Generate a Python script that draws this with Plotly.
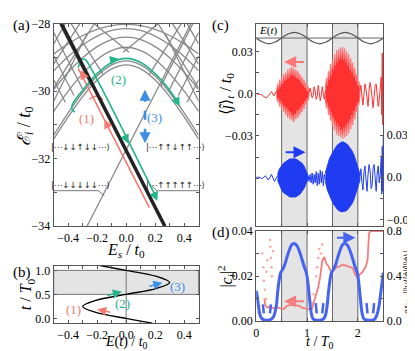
"""Four-panel figure: level spectrum, drive field, current and weights."""

import plotly.graph_objects as go

W, H = 415, 351

# ---------------- panel (a): levels vs static field ----------------
E_grid = [-0.5, -0.4, -0.3, -0.2, -0.1, 0.0, 0.1, 0.2, 0.3, 0.4, 0.5]
arc1 = [-31.30, -30.64, -30.04, -29.55, -29.22, -29.10, -29.22, -29.55, -30.04, -30.64, -31.30]
arc1b = [-31.42, -30.76, -30.16, -29.67, -29.34, -29.22, -29.34, -29.67, -30.16, -30.76, -31.42]
arc2 = [-30.60, -30.00, -29.48, -29.06, -28.80, -28.70, -28.80, -29.06, -29.48, -30.00, -30.60]
arc3 = [-29.95, -29.44, -29.01, -28.68, -28.47, -28.40, -28.47, -28.68, -29.01, -29.44, -29.95]
arc4 = [-29.40, -28.97, -28.63, -28.37, -28.20, -28.15, -28.20, -28.37, -28.63, -28.97, -29.40]
arc5 = [-28.90, -28.60, -28.35, -28.17, -28.06, -28.02, -28.06, -28.17, -28.35, -28.60, -28.90]

steep_E = [[-0.5, -0.30], [-0.5, -0.36], [-0.5, -0.42], [-0.46, -0.24],
           [-0.5, -0.22], [-0.5, -0.32], [-0.5, -0.42], [-0.5, -0.27],
           [0.30, 0.5], [0.36, 0.5], [0.42, 0.5], [0.24, 0.46],
           [0.22, 0.5], [0.32, 0.5], [0.42, 0.5], [0.27, 0.5],
           [-0.38, -0.16], [0.16, 0.38], [-0.22, 0.02], [-0.02, 0.22]]
steep_eps = [[-28.26, -29.94], [-28.96, -30.13], [-29.66, -30.33], [-28.0, -29.85],
             [-29.90, -28.00], [-29.20, -28.00], [-28.60, -28.00], [-30.30, -28.30],
             [-29.94, -28.26], [-30.13, -28.96], [-30.33, -29.66], [-29.85, -28.0],
             [-28.00, -29.90], [-28.00, -29.20], [-28.00, -28.60], [-28.30, -30.30],
             [-28.00, -29.50], [-29.50, -28.00], [-28.0, -28.85], [-28.85, -28.0]]

cross_E = [-0.27, 0.45]
cross_eps = [-34.0, -27.97]
black_E = [-0.447, 0.267]
black_eps = [-28.0, -34.0]

red_E = [-0.33, 0.16]
red_eps = [-29.33, -33.45]
teal_E = [-0.33, -0.318, -0.30, -0.285, -0.277, 0.21]
teal_eps = [-29.30, -29.12, -29.05, -29.06, -29.08, -33.17]
teal_arc_E = [-0.355, -0.375, -0.37, -0.3, -0.2, -0.1, 0.0, 0.1, 0.2, 0.3, 0.36]
teal_arc_eps = [-30.62, -30.52, -30.38, -29.97, -29.48, -29.15, -29.03, -29.15, -29.48, -29.97, -30.36]
loop1_E = [-0.16, -0.19, -0.225, -0.255]
loop1_eps = [-30.25, -30.16, -30.16, -30.24]
jump3_E = [0.13, 0.13]
jump3_eps = [-30.05, -31.45]

kets = ["|⋯↓↓↑↓↓⋯⟩", "|⋯↑↑↓↑↑⋯⟩", "|⋯↓↓↓↓↓⋯⟩", "|⋯↑↑↑↑↑⋯⟩"]

# ---------------- panel (b): drive field ----------------
t_b = [-0.1, -0.05, 0.0, 0.125, 0.25, 0.375, 0.5, 0.625, 0.75, 0.875, 1.0, 1.05, 1.1]
E_b = [0.18, 0.09, 0.0, -0.21, -0.30, -0.21, 0.0, 0.21, 0.30, 0.21, 0.0, -0.09, -0.18]

# ---------------- panel (c): current ----------------
t_field = [0, 0.125, 0.25, 0.375, 0.5, 0.625, 0.75, 0.875, 1.0, 1.125, 1.25, 1.375,
           1.5, 1.625, 1.75, 1.875, 2.0, 2.125, 2.25, 2.375, 2.5]
E_field = [0, -0.21, -0.3, -0.21, 0, 0.21, 0.3, 0.21, 0, -0.21, -0.3, -0.21,
           0, 0.21, 0.3, 0.21, 0, -0.21, -0.3, -0.21, 0]

red_q1_t = [0.00, 0.05, 0.10, 0.15, 0.20, 0.25, 0.30, 0.35, 0.40]
red_q1_j = [0.000, -0.0003, -0.0006, -0.0020, -0.0030, -0.0010, 0.0015, -0.0015, 0.0020]
red_b1_t = [0.40, 0.42, 0.44, 0.46, 0.48, 0.50, 0.52, 0.54, 0.56, 0.58, 0.60, 0.62, 0.64, 0.66,
            0.68, 0.70, 0.72, 0.74, 0.76, 0.78, 0.80, 0.82, 0.84, 0.86, 0.88, 0.90, 0.92, 0.94,
            0.96, 0.98, 1.00, 1.02, 1.04]
red_b1_up = [0.002, 0.007, 0.003, 0.010, 0.005, 0.012, 0.007, 0.014, 0.009, 0.015, 0.010, 0.017,
             0.011, 0.018, 0.013, 0.019, 0.013, 0.018, 0.012, 0.017, 0.011, 0.016, 0.010, 0.014,
             0.008, 0.012, 0.006, 0.010, 0.004, 0.008, 0.002, 0.005, 0.001]
red_b1_lo = [-0.002, -0.006, -0.003, -0.009, -0.005, -0.011, -0.007, -0.013, -0.009, -0.015,
             -0.010, -0.017, -0.012, -0.018, -0.013, -0.019, -0.015, -0.020, -0.014, -0.018,
             -0.012, -0.017, -0.011, -0.015, -0.009, -0.013, -0.007, -0.011, -0.005, -0.008,
             -0.003, -0.005, -0.001]
red_q2_t = [1.04, 1.06, 1.08, 1.10, 1.12, 1.14, 1.16, 1.18, 1.20, 1.22, 1.24, 1.26, 1.28, 1.30,
            1.32, 1.34, 1.36]
red_q2_j = [0.001, 0.004, 0.001, -0.003, -0.001, 0.005, 0.002, -0.004, -0.002, 0.006, 0.001,
            -0.005, -0.001, 0.005, 0.000, -0.004, 0.002]
red_b2_t = [1.36, 1.38, 1.40, 1.42, 1.44, 1.46, 1.48, 1.50, 1.52, 1.54, 1.56, 1.58, 1.60, 1.62,
            1.64, 1.66, 1.68, 1.70, 1.72, 1.74, 1.76, 1.78, 1.80, 1.82, 1.84, 1.86, 1.88, 1.90,
            1.92, 1.94, 1.96, 1.98, 2.00, 2.02, 2.04]
red_b2_up = [0.004, 0.011, 0.006, 0.016, 0.010, 0.021, 0.013, 0.024, 0.017, 0.028, 0.020, 0.031,
             0.022, 0.032, 0.024, 0.033, 0.025, 0.033, 0.024, 0.032, 0.022, 0.030, 0.020, 0.028,
             0.017, 0.025, 0.015, 0.022, 0.012, 0.018, 0.009, 0.014, 0.006, 0.009, 0.002]
red_b2_lo = [-0.004, -0.010, -0.006, -0.015, -0.010, -0.019, -0.013, -0.023, -0.016, -0.026,
             -0.019, -0.029, -0.021, -0.030, -0.023, -0.031, -0.025, -0.032, -0.024, -0.031,
             -0.022, -0.030, -0.020, -0.028, -0.018, -0.025, -0.015, -0.022, -0.012, -0.018,
             -0.009, -0.013, -0.006, -0.008, -0.002]
red_q3_t = [2.04, 2.06, 2.08, 2.10, 2.12, 2.14, 2.16, 2.18, 2.20, 2.22, 2.24, 2.26, 2.28, 2.30,
            2.32, 2.34, 2.36, 2.38, 2.40, 2.42, 2.44, 2.46, 2.47, 2.48, 2.49, 2.50]
red_q3_j = [0.002, 0.006, -0.002, -0.008, 0.000, 0.007, 0.003, -0.006, -0.009, 0.002, 0.008,
            0.004, -0.005, -0.010, -0.002, 0.006, 0.007, -0.003, -0.009, -0.004, 0.003, 0.012,
            -0.015, 0.029, -0.022, 0.020]

blue_q1_t = [0.00, 0.06, 0.12, 0.18, 0.24, 0.30, 0.36, 0.42]
blue_q1_j = [0.000, 0.000, -0.001, 0.001, -0.002, 0.002, -0.003, 0.001]
blue_b1_t = [0.42, 0.46, 0.50, 0.54, 0.58, 0.62, 0.66, 0.70, 0.74, 0.78, 0.82, 0.86, 0.90,
             0.94, 0.98, 1.02]
blue_b1_up = [0.002, 0.006, 0.008, 0.010, 0.011, 0.012, 0.013, 0.013, 0.013, 0.013, 0.012,
              0.011, 0.010, 0.008, 0.005, 0.001]
blue_b1_lo = [-0.002, -0.006, -0.009, -0.011, -0.012, -0.013, -0.014, -0.014, -0.014, -0.014,
              -0.013, -0.012, -0.010, -0.008, -0.005, -0.001]
blue_q2_t = [1.02, 1.04, 1.06, 1.08, 1.10, 1.12, 1.14, 1.16, 1.18, 1.20, 1.22, 1.24, 1.26, 1.28,
             1.30, 1.32, 1.34, 1.36]
blue_q2_j = [0.001, -0.003, 0.002, -0.004, 0.003, -0.005, 0.002, -0.004, 0.004, -0.006, 0.003,
             -0.005, 0.005, -0.004, 0.004, -0.006, 0.002, -0.002]
blue_b2_t = [1.36, 1.40, 1.44, 1.48, 1.52, 1.56, 1.60, 1.64, 1.68, 1.72, 1.76, 1.80, 1.84,
             1.88, 1.92, 1.96, 2.00, 2.04]
blue_b2_up = [0.003, 0.009, 0.013, 0.016, 0.019, 0.021, 0.023, 0.024, 0.025, 0.025, 0.024,
              0.023, 0.021, 0.019, 0.016, 0.012, 0.007, 0.002]
blue_b2_lo = [-0.003, -0.009, -0.013, -0.016, -0.019, -0.021, -0.023, -0.024, -0.0245, -0.0245,
              -0.024, -0.023, -0.021, -0.019, -0.016, -0.012, -0.007, -0.002]
blue_q3_t = red_q3_t
blue_q3_j = [0.001, 0.006, -0.004, -0.009, 0.004, 0.008, -0.002, -0.010, 0.002, 0.009, 0.005,
             -0.008, -0.006, 0.007, 0.009, -0.005, -0.010, 0.003, 0.008, -0.004, 0.002, 0.014,
             -0.012, 0.022, -0.010, 0.030]

# ---------------- panel (d): weights ----------------
blue_d_t = [0.00, 0.02, 0.05, 0.08, 0.12, 0.18, 0.24, 0.30, 0.34, 0.37, 0.40, 0.42, 0.45, 0.48,
            0.52, 0.56, 0.60, 0.65, 0.70, 0.75, 0.80, 0.85, 0.90, 0.94, 0.98, 1.00, 1.02, 1.05,
            1.08, 1.12, 1.18, 1.25, 1.32, 1.36, 1.39, 1.42, 1.45, 1.48, 1.52, 1.56, 1.60, 1.65,
            1.70, 1.75, 1.80, 1.85, 1.90, 1.94, 1.98, 2.00, 2.02, 2.05, 2.08, 2.12, 2.20, 2.28,
            2.33, 2.37, 2.41, 2.45, 2.48, 2.50]
blue_d_v = [0.27, 0.22, 0.12, 0.05, 0.02, 0.01, 0.01, 0.02, 0.04, 0.08, 0.15, 0.25, 0.36, 0.43,
            0.46, 0.50, 0.56, 0.63, 0.68, 0.69, 0.67, 0.62, 0.55, 0.49, 0.44, 0.40, 0.33, 0.20,
            0.08, 0.02, 0.01, 0.01, 0.02, 0.05, 0.12, 0.25, 0.36, 0.43, 0.46, 0.50, 0.56, 0.63,
            0.68, 0.69, 0.67, 0.62, 0.55, 0.49, 0.44, 0.40, 0.33, 0.20, 0.08, 0.02, 0.01, 0.01,
            0.02, 0.05, 0.12, 0.25, 0.36, 0.43]
blue_in_t = [0.13, 0.15, None, 0.27, 0.29, None, 1.17, 1.19, None, 1.30, 1.32, None,
             2.17, 2.19, None, 2.30, 2.32]
blue_in_v = [0.15, 0.07, None, 0.07, 0.15, None, 0.16, 0.07, None, 0.07, 0.16, None,
             0.16, 0.07, None, 0.07, 0.16]

red_d_t = [0.16, 0.18, 0.22, 0.26, 0.30, 0.35, 0.40, 0.45, 0.50, 0.55, 0.60, 0.65, 0.70, 0.75,
           0.80, 0.85, 0.90, 0.95, 1.00, 1.05, 1.10, 1.14, 1.18, 1.22, 1.26, 1.30, 1.34, 1.38,
           1.42, 1.46, 1.50, 1.55, 1.60, 1.65, 1.70, 1.75, 1.80, 1.85, 1.90, 1.95, 2.00, 2.04,
           2.08, 2.12, 2.16, 2.19, 2.22, 2.25, 2.30, 2.40, 2.50]
red_d_v = [0.010, 0.007, 0.006, 0.0065, 0.006, 0.0058, 0.0062, 0.0058, 0.0056, 0.0055, 0.0068,
           0.0072, 0.0074, 0.0073, 0.0070, 0.0068, 0.0060, 0.0056, 0.0055, 0.0054, 0.0056,
           0.0090, 0.0120, 0.0150, 0.0200, 0.0270, 0.0285, 0.0255, 0.0245, 0.0225, 0.0220,
           0.0235, 0.0240, 0.0245, 0.0250, 0.0248, 0.0245, 0.0240, 0.0235, 0.0205, 0.0195,
           0.0210, 0.0215, 0.0230, 0.0245, 0.0270, 0.0390, 0.0400, 0.0400, 0.0400, 0.0400]
red_dots_t = [0.12, 0.14, 0.15, 0.17, 0.19, 0.20, 0.22, 0.27, 0.28, 0.29, 0.30, 0.31, 0.33,
              1.10, 1.13, 1.18, 1.20, 1.22, 1.24, 1.27, 1.30, 0.04, 0.07]
red_dots_v = [0.030, 0.024, 0.018, 0.014, 0.010, 0.022, 0.027, 0.036, 0.033, 0.028, 0.024,
              0.020, 0.031, 0.008, 0.012, 0.020, 0.024, 0.028, 0.032, 0.030, 0.034, 0.004, 0.002]


def fx(x):
    return x / W


def fy(y):
    return 1 - y / H


SERIF = "Liberation Serif"
GRAY = "#8a8a8a"
RED = "#ff3030"
BLUE = "#1f3cf2"
TEAL = "#26b48a"
SALMON = "#f47a72"
LBLUE = "#3a8fe4"

fig = go.Figure()


def line(x, y, xa, ya, color, width, dash=None, shape="linear"):
    fig.add_trace(go.Scatter(x=x, y=y, xaxis=xa, yaxis=ya, mode="lines",
                             line=dict(color=color, width=width, dash=dash, shape=shape),
                             hoverinfo="skip"))


def band(t, up, lo, ya, fill, edge):
    fig.add_trace(go.Scatter(x=t + t[::-1], y=up + lo[::-1], xaxis="x3", yaxis=ya,
                             mode="lines", fill="toself", fillcolor=fill,
                             line=dict(color=edge, width=1), hoverinfo="skip"))


# (a)
for arc in [arc5, arc4, arc3, arc2, arc1, arc1b]:
    line(E_grid, arc, "x", "y", GRAY, 1.3, shape="spline")
for xs, ys in zip(steep_E, steep_eps):
    line(xs, ys, "x", "y", GRAY, 1.3)
line(cross_E, cross_eps, "x", "y", GRAY, 1.3)
line(red_E, red_eps, "x", "y", SALMON, 1.6)
line(teal_E, teal_eps, "x", "y", TEAL, 1.6, shape="spline")
line(teal_arc_E, teal_arc_eps, "x", "y", TEAL, 1.6, shape="spline")
line(loop1_E, loop1_eps, "x", "y", SALMON, 1.4, shape="spline")
line(black_E, black_eps, "x", "y", "#222222", 3.5)
line(jump3_E, jump3_eps, "x", "y", LBLUE, 2.6, dash="dash")

# (b)
line(E_b, t_b, "x2", "y2", "black", 1.3, shape="spline")

# (c)
line(t_field, E_field, "x3", "y5", "#555555", 1.2, shape="spline")
line(red_q1_t, red_q1_j, "x3", "y3", RED, 1)
band(red_b1_t, red_b1_up, red_b1_lo, "y3", RED, "#ff7a7a")
line(red_q2_t, red_q2_j, "x3", "y3", RED, 1)
band(red_b2_t, red_b2_up, red_b2_lo, "y3", RED, "#ff7a7a")
line(red_q3_t, red_q3_j, "x3", "y3", RED, 1)
line(blue_q1_t, blue_q1_j, "x3", "y4", BLUE, 1)
band(blue_b1_t, blue_b1_up, blue_b1_lo, "y4", BLUE, BLUE)
line(blue_q2_t, blue_q2_j, "x3", "y4", BLUE, 1)
band(blue_b2_t, blue_b2_up, blue_b2_lo, "y4", BLUE, BLUE)
line(blue_q3_t, blue_q3_j, "x3", "y4", BLUE, 1)

# (d)
fig.add_trace(go.Scatter(x=red_dots_t, y=red_dots_v, xaxis="x4", yaxis="y6", mode="markers",
                         marker=dict(color="rgba(240,110,110,0.6)", size=2.5),
                         hoverinfo="skip"))
line(red_d_t, red_d_v, "x4", "y6", "#f27e7e", 1.8)
line(blue_d_t, blue_d_v, "x4", "y7", "#4664f0", 3, shape="spline")
line(blue_in_t, blue_in_v, "x4", "y7", "#4664f0", 2.5)

# ---------------- shapes ----------------
shapes = []
for a, b in [(0.5, 1.0), (1.5, 2.0)]:
    for y0, y1 in [(9, 220), (225, 319)]:
        shapes.append(dict(type="rect", xref="x3", yref="paper", x0=a, x1=b,
                           y0=fy(y1), y1=fy(y0), fillcolor="#e4e4e4", line_width=0,
                           layer="below"))
for tv in [0.5, 1.0, 1.5, 2.0]:
    for y0, y1 in [(9, 220), (225, 319)]:
        shapes.append(dict(type="line", xref="x3", yref="paper", x0=tv, x1=tv,
                           y0=fy(y1), y1=fy(y0), line=dict(color="#666", width=1),
                           layer="below"))
shapes.append(dict(type="line", xref="paper", yref="paper", x0=fx(247), x1=fx(375),
                   y0=fy(24), y1=fy(24), line=dict(color="#666", width=1)))
shapes.append(dict(type="rect", xref="paper", yref="y2", x0=fx(43), x1=fx(189), y0=0.5,
                   y1=1.0, fillcolor="#e4e4e4", line=dict(color="#777", width=1),
                   layer="below"))
shapes.append(dict(type="line", xref="x2", yref="y2", x0=0, x1=0, y0=-0.1, y1=1.1,
                   line=dict(color="#777", width=1), layer="below"))
# leader lines of the ket labels
for pts in [[(43, 183), (88, 183), (94, 188)], [(189, 183), (147, 183), (142, 178)]]:
    for (x0, y0), (x1, y1) in zip(pts[:-1], pts[1:]):
        shapes.append(dict(type="line", xref="paper", yref="paper", x0=fx(x0), x1=fx(x1),
                           y0=fy(y0), y1=fy(y1), line=dict(color="#555", width=0.8)))

# ---------------- annotations ----------------
ann = []


def text(x, y, s, size=13, color="black", angle=0, family=SERIF):
    ann.append(dict(x=fx(x), y=fy(y), xref="paper", yref="paper", text=s, showarrow=False,
                    xanchor="center", yanchor="middle",
                    font=dict(size=size, color=color, family=family), textangle=angle))


def arrow(x, y, ax, ay, xr, yr, color, width=1.5, size=1.2):
    ann.append(dict(x=x, y=y, ax=ax, ay=ay, xref=xr, yref=yr, axref=xr, ayref=yr, text="",
                    showarrow=True, arrowhead=2, arrowsize=size, arrowwidth=width,
                    arrowcolor=color))


text(11, 11, "(a)", 15)
text(11, 268, "(b)", 15)
text(211, 11, "(c)", 15)
text(212, 227, "(d)", 15)

text(14, 116, "<i>ℰ<sub>i</sub></i> / <i>t</i><sub>0</sub>", 18, angle=-90)
text(116, 245, "<i>E<sub>s</sub></i> / <i>t</i><sub>0</sub>", 16)
text(16, 291, "<i>t</i> / <i>T</i><sub>0</sub>", 16, angle=-90)
text(116, 341, "<i>E</i>(<i>t</i>) / <i>t</i><sub>0</sub>", 14)
text(217, 82, "⟨<i>ĵ</i>⟩<sub><i>t</i></sub> / <i>t</i><sub>0</sub>", 16, angle=-90)
text(217, 272, "|<i>c<sub>i</sub></i>|<sup>2</sup>", 16, angle=-90)
text(311, 341, "<i>t</i> / <i>T</i><sub>0</sub>", 14)
text(400, 280, "|⟨<i>φ</i><sub>0</sub>|<i>ĵ</i>|<i>φ<sub>i</sub></i>⟩/<i>t</i><sub>0</sub>|"
     "<sup>2</sup> ×10<sup>2</sup>", 9.5, angle=90)
text(259, 16, "<i>E</i>(<i>t</i>)", 11)

text(76, 108, "(1)", 13, SALMON)
text(108, 67, "(2)", 13, TEAL)
text(145, 107, "(3)", 13, LBLUE)
text(63, 307, "(1)", 13, SALMON)
text(112, 300, "(2)", 13, TEAL)
text(168, 283, "(3)", 13, LBLUE)

text(70, 137, kets[0], 8.5, "#222", family="DejaVu Sans")
text(166, 137, kets[1], 8.5, "#222", family="DejaVu Sans")
text(70, 177, kets[2], 8.5, "#222", family="DejaVu Sans")
text(166, 177, kets[3], 8.5, "#222", family="DejaVu Sans")

# arrowheads on the paths of (a)
arrow(-0.312, -29.38, -0.297, -29.52, "x", "y", SALMON)
arrow(-0.15, -30.84, -0.135, -30.97, "x", "y", SALMON)
arrow(-0.27, -30.32, -0.255, -30.24, "x", "y", SALMON, 1.3)
arrow(0.015, -31.55, -0.005, -31.36, "x", "y", TEAL)
arrow(0.215, -33.25, 0.2, -33.1, "x", "y", TEAL)
arrow(-0.05, -29.04, -0.09, -29.07, "x", "y", TEAL)
arrow(0.37, -30.45, 0.35, -30.3, "x", "y", TEAL)
arrow(0.13, -29.96, 0.13, -30.1, "x", "y", LBLUE, 2.2, 1.0)
arrow(0.13, -31.54, 0.13, -31.4, "x", "y", LBLUE, 2.2, 1.0)
# arrows of (b)
arrow(-0.20, 0.19, -0.10, 0.12, "x2", "y2", SALMON)
arrow(-0.03, 0.56, -0.14, 0.47, "x2", "y2", TEAL)
arrow(0.25, 0.74, 0.15, 0.66, "x2", "y2", LBLUE)
# arrows of (c) and (d)
arrow(0.55, 0.0225, 0.97, 0.0225, "x3", "y3", "#ff7777", 2)
arrow(0.97, 0.0177, 0.55, 0.0177, "x3", "y4", BLUE, 2)
arrow(0.55, 0.0089, 0.97, 0.0089, "x4", "y6", "#f27e7e", 2)
arrow(1.95, 0.74, 1.56, 0.74, "x4", "y7", "#4664f0", 2)

# ---------------- axes ----------------
ax_style = dict(showline=True, linecolor="#555", linewidth=1, ticks="inside", ticklen=3,
                tickcolor="#555", showgrid=False, zeroline=False,
                tickfont=dict(family=SERIF, size=12, color="black"))

Ex_ticks = [-0.5, -0.4, -0.3, -0.2, -0.1, 0.0, 0.1, 0.2, 0.3, 0.4, 0.5]
Ex_text = ["", "−0.4", "", "−0.2", "", "0.0", "", "0.2", "", "0.4", ""]

fig.update_layout(
    width=W, height=H, margin=dict(l=0, r=0, t=0, b=0),
    paper_bgcolor="white", plot_bgcolor="rgba(0,0,0,0)", showlegend=False,
    font=dict(family=SERIF, size=12, color="black"),
    xaxis=dict(domain=[fx(43), fx(189)], range=[-0.5, 0.5], anchor="y", mirror="ticks",
               tickvals=Ex_ticks, ticktext=Ex_text, **ax_style),
    yaxis=dict(domain=[fy(220), fy(9)], range=[-34, -28], anchor="x", mirror="ticks",
               tickvals=[-34, -33, -32, -31, -30, -29, -28],
               ticktext=["−34", "", "−32", "", "−30", "", "−28"], **ax_style),
    xaxis2=dict(domain=[fx(43), fx(189)], range=[-0.5, 0.5], anchor="y2", mirror="ticks",
                tickvals=Ex_ticks, ticktext=Ex_text, **ax_style),
    yaxis2=dict(domain=[fy(321), fy(261)], range=[-0.1, 1.1], anchor="x2", mirror="ticks",
                tickvals=[0, 0.5, 1.0], ticktext=["0.0", "0.5", "1.0"], **ax_style),
    xaxis3=dict(domain=[fx(247), fx(375)], range=[0, 2.5], anchor="y3", mirror="ticks",
                tickvals=[0, 0.5, 1, 1.5, 2, 2.5], showticklabels=False, **ax_style),
    yaxis3=dict(domain=[fy(220), fy(9)], range=[-0.0941, 0.0498], anchor="x3",
                tickvals=[-0.06, -0.045, -0.03, -0.015, 0, 0.015, 0.03],
                ticktext=["", "", "−0.03", "", "0.0", "", "0.03"], **ax_style),
    yaxis4=dict(range=[-0.0348, 0.1091], anchor="x3", overlaying="y3", side="right",
                tickvals=[-0.03, -0.015, 0, 0.015, 0.03],
                ticktext=["−0.03", "", "0.0", "", "0.03"], **ax_style),
    yaxis5=dict(domain=[fy(39), fy(9)], range=[-0.75, 0.75], anchor="x3", visible=False),
    xaxis4=dict(domain=[fx(247), fx(375)], range=[0, 2.5], anchor="y6", mirror="ticks",
                tickvals=[0, 0.5, 1, 1.5, 2, 2.5], ticktext=["0", "", "1", "", "2", ""],
                **ax_style),
    yaxis6=dict(domain=[fy(319), fy(225)], range=[0, 0.04], anchor="x4",
                tickvals=[0, 0.01, 0.02, 0.03, 0.04],
                ticktext=["0.00", "", "0.02", "", "0.04"], **ax_style),
    yaxis7=dict(range=[0, 0.8], anchor="x4", overlaying="y6", side="right",
                tickvals=[0, 0.2, 0.4, 0.6, 0.8], ticktext=["0.0", "", "0.4", "", "0.8"],
                **ax_style),
    shapes=shapes,
    annotations=ann,
)

fig.write_html("out.html")
